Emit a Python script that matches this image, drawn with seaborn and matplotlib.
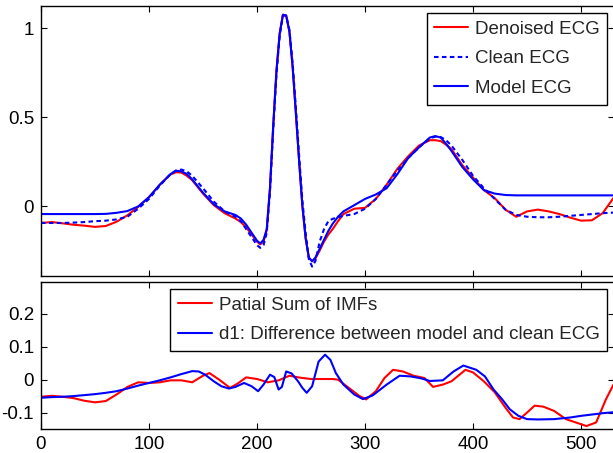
import numpy as np
import pandas as pd
import seaborn as sns
import matplotlib
matplotlib.use("Agg")
import matplotlib.pyplot as plt

# ---------------- data ----------------
x_top = [0, 10, 20, 30, 40, 50, 60, 70, 80, 90,
         100, 110, 120, 125, 130, 135, 140, 150, 160, 170,
         180, 185, 190, 195, 200, 203, 206, 209, 212, 215,
         218, 221, 224, 227, 230, 233, 236, 239, 242, 245,
         248, 251, 254, 258, 262, 266, 270, 275, 280, 290,
         300, 310, 320, 330, 340, 350, 360, 365, 370, 375,
         380, 390, 400, 410, 420, 430, 440, 450, 460, 470,
         480, 490, 500, 510, 520, 530]

denoised = [-0.095, -0.09, -0.097, -0.105, -0.11, -0.117, -0.112, -0.088, -0.052, -0.005,
            0.05, 0.12, 0.178, 0.19, 0.188, 0.17, 0.145, 0.07, 0.005, -0.04,
            -0.07, -0.09, -0.12, -0.16, -0.2, -0.215, -0.2, -0.135, 0.1, 0.45,
            0.76, 0.97, 1.075, 1.07, 0.98, 0.78, 0.52, 0.25, 0.0, -0.18,
            -0.29, -0.31, -0.295, -0.25, -0.2, -0.16, -0.13, -0.085, -0.045, -0.015,
            -0.01, 0.04, 0.12, 0.21, 0.28, 0.34, 0.37, 0.37, 0.365, 0.345,
            0.32, 0.23, 0.16, 0.09, 0.045, -0.02, -0.06, -0.03, -0.02, -0.03,
            -0.045, -0.065, -0.082, -0.08, -0.04, 0.045]

clean = [-0.095, -0.095, -0.095, -0.093, -0.09, -0.085, -0.082, -0.075, -0.06, -0.015,
         0.04, 0.115, 0.18, 0.2, 0.205, 0.195, 0.17, 0.1, 0.025, -0.03,
         -0.06, -0.085, -0.13, -0.175, -0.22, -0.235, -0.22, -0.15, 0.08, 0.43,
         0.74, 0.96, 1.07, 1.07, 0.99, 0.8, 0.55, 0.28, 0.03, -0.15,
         -0.3, -0.34, -0.31, -0.2, -0.13, -0.085, -0.072, -0.063, -0.055, -0.045,
         -0.015, 0.04, 0.12, 0.2, 0.27, 0.33, 0.38, 0.39, 0.388, 0.37,
         0.34, 0.26, 0.17, 0.1, 0.04, -0.02, -0.05, -0.06, -0.063, -0.063,
         -0.06, -0.055, -0.05, -0.045, -0.04, -0.037]

model = [-0.045, -0.045, -0.045, -0.045, -0.045, -0.045, -0.044, -0.038, -0.028, -0.002,
         0.05, 0.12, 0.18, 0.198, 0.195, 0.18, 0.15, 0.075, 0.01, -0.03,
         -0.05, -0.07, -0.105, -0.15, -0.195, -0.21, -0.19, -0.13, 0.1, 0.45,
         0.76, 0.97, 1.075, 1.07, 0.98, 0.78, 0.52, 0.25, 0.0, -0.18,
         -0.29, -0.31, -0.29, -0.24, -0.19, -0.14, -0.1, -0.06, -0.03, 0.005,
         0.04, 0.065, 0.1, 0.18, 0.27, 0.33, 0.385, 0.393, 0.385, 0.35,
         0.31, 0.22, 0.15, 0.09, 0.07, 0.062, 0.06, 0.06, 0.06, 0.06,
         0.06, 0.06, 0.06, 0.06, 0.06, 0.06]

x_psum = [0, 10, 20, 30, 40, 50, 60, 70, 80, 90, 100, 110, 120, 130, 140, 150, 156,
          165, 175, 182, 190, 200, 210, 220, 230, 240, 250, 260, 270, 275, 285, 295,
          301, 310, 318, 326, 335, 345, 355, 363, 372, 380, 393, 400, 410, 420, 430,
          437, 443, 450, 457, 465, 475, 486, 495, 505, 514, 523, 530]
psum = [-0.052, -0.049, -0.052, -0.056, -0.064, -0.069, -0.065, -0.045, -0.022,
        -0.008, -0.01, -0.008, -0.002, -0.002, -0.008, 0.012, 0.02, 0.0, -0.025,
        -0.012, 0.007, 0.002, -0.008, -0.002, 0.012, 0.006, 0.002, 0.002, 0.002, 0.0,
        -0.025, -0.05, -0.06, -0.035, 0.005, 0.03, 0.025, 0.012, 0.005, -0.022, -0.015,
        -0.005, 0.03, 0.022, -0.005, -0.038, -0.085, -0.115, -0.12, -0.1, -0.079,
        -0.082, -0.095, -0.12, -0.13, -0.141, -0.13, -0.06, -0.015]

x_d1 = [0, 10, 20, 30, 40, 50, 60, 70, 80, 90, 100, 110, 120, 130, 140, 146, 152,
        160, 167, 174, 180, 188, 195, 201, 206, 212, 216, 220, 223, 227, 232, 238,
        242, 246, 251, 257, 263, 268, 273, 280, 290, 298, 307, 320, 332, 342, 352,
        360, 372, 382, 391, 403, 411, 419, 427, 434, 442, 450, 460, 475, 490, 500,
        510, 520, 530]
d1 = [-0.055, -0.053, -0.052, -0.05, -0.047, -0.044, -0.04, -0.035, -0.027, -0.018,
      -0.01, -0.002, 0.007, 0.017, 0.026, 0.025, 0.015, -0.005, -0.02, -0.027,
      -0.022, -0.01, -0.02, -0.035, -0.015, 0.015, 0.008, -0.03, -0.022, 0.025,
      0.019, -0.005, -0.025, -0.04, -0.02, 0.055, 0.076, 0.06, 0.02, -0.015, -0.045,
      -0.059, -0.048, -0.015, 0.012, 0.01, 0.004, -0.004, -0.002, 0.025, 0.043,
      0.03, 0.01, -0.03, -0.06, -0.09, -0.11, -0.12, -0.121, -0.12, -0.115, -0.11,
      -0.106, -0.102, -0.099]

top_yticks = [0, 0.5, 1]
top_yticklabels = ["0", "0.5", "1"]
bot_yticks = [-0.1, 0, 0.1, 0.2]
bot_yticklabels = ["-0.1", "0", "0.1", "0.2"]
xticks = [0, 100, 200, 300, 400, 500]
xticklabels = ["0", "100", "200", "300", "400", "500"]

# ---------------- style ----------------
sns.set_theme(style="white")
plt.rcParams["font.family"] = ["Liberation Sans", "DejaVu Sans"]
plt.rcParams["axes.edgecolor"] = "black"
plt.rcParams["axes.linewidth"] = 1.0
FS = 13.5

fig = plt.figure(figsize=(6.13, 4.53), dpi=100)
ax1 = fig.add_axes([41 / 613, 1 - 276 / 453, 573 / 613, 270 / 453])
ax2 = fig.add_axes([41 / 613, 1 - 429 / 453, 573 / 613, 147 / 453])

RED = "#ff0000"
BLUE = "#0000ff"
LW = 1.5

df_top = pd.DataFrame({"x": x_top, "denoised": denoised, "clean": clean, "model": model})
sns.lineplot(data=df_top, x="x", y="denoised", ax=ax1, color=RED, lw=LW,
             label="Denoised ECG", sort=False, estimator=None)
sns.lineplot(data=df_top, x="x", y="clean", ax=ax1, color=BLUE, lw=LW,
             label="Clean ECG", sort=False, estimator=None, linestyle=(0, (2.2, 1.6)))
sns.lineplot(data=df_top, x="x", y="model", ax=ax1, color=BLUE, lw=LW,
             label="Model ECG", sort=False, estimator=None)

df_ps = pd.DataFrame({"x": x_psum, "y": psum})
df_d1 = pd.DataFrame({"x": x_d1, "y": d1})
sns.lineplot(data=df_ps, x="x", y="y", ax=ax2, color=RED, lw=LW,
             label="Patial Sum of IMFs", sort=False, estimator=None)
sns.lineplot(data=df_d1, x="x", y="y", ax=ax2, color=BLUE, lw=LW,
             label="d1: Difference between model and clean ECG", sort=False, estimator=None)

for ax in (ax1, ax2):
    ax.set_xlim(0, 530.5)
    ax.set_xticks(xticks)
    ax.set_xlabel("")
    ax.set_ylabel("")
    ax.tick_params(direction="in", length=4.5, width=0.8, top=True, right=True,
                   bottom=True, left=True, labelsize=FS, colors="black", pad=5)
    for s in ax.spines.values():
        s.set_color("black")
        s.set_linewidth(1.0)
    ax.set_facecolor("white")

ax1.set_ylim(-0.393, 1.124)
ax1.set_yticks(top_yticks)
ax1.set_yticklabels(top_yticklabels)
ax1.set_xticklabels([])

ax2.set_ylim(-0.15, 0.297)
ax2.set_yticks(bot_yticks)
ax2.set_yticklabels(bot_yticklabels)
ax2.set_xticklabels(xticklabels)

leg_kw = dict(loc="upper right", fontsize=FS, frameon=True, fancybox=False,
              framealpha=1, edgecolor="black", handlelength=1.8, handletextpad=0.35,
              borderaxespad=0.35, labelspacing=0.67, borderpad=0.42)
l1 = ax1.legend(**leg_kw)
l2 = ax2.legend(**leg_kw)
for l in (l1, l2):
    l.get_frame().set_linewidth(1.0)

fig.savefig("out.png", dpi=100, facecolor="white")
